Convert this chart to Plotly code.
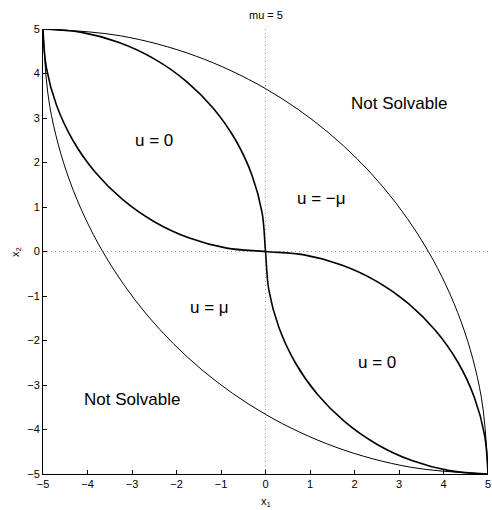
import plotly.graph_objects as go

# Thick switching curves
sw1_x1 = [-5.0, -4.924, -4.698, -4.330, -3.830, -3.214, -2.5, -1.710, -0.868, 0.0,
          0.868, 1.710, 2.5, 3.214, 3.830, 4.330, 4.698, 4.924, 5.0]
sw1_x2 = [5.0, 4.132, 3.290, 2.5, 1.786, 1.170, 0.670, 0.302, 0.076, 0.0,
          -0.076, -0.302, -0.670, -1.170, -1.786, -2.5, -3.290, -4.132, -5.0]
sw2_x1 = [-5.0, -4.132, -3.290, -2.5, -1.786, -1.170, -0.670, -0.302, -0.076, 0.0,
          0.076, 0.302, 0.670, 1.170, 1.786, 2.5, 3.290, 4.132, 5.0]
sw2_x2 = [5.0, 4.924, 4.698, 4.330, 3.830, 3.214, 2.5, 1.710, 0.868, 0.0,
          -0.868, -1.710, -2.5, -3.214, -3.830, -4.330, -4.698, -4.924, -5.0]

# Thin outer boundaries (solvability limits)
up_x1 = [-5.0, -3.264, -1.580, 0.0, 1.428, 2.660, 3.660, 4.397, 4.848, 5.0]
up_x2 = [5.0, 4.848, 4.397, 3.660, 2.660, 1.428, 0.0, -1.580, -3.264, -5.0]
lo_x1 = [-5.0, -4.848, -4.397, -3.660, -2.660, -1.428, 0.0, 1.580, 3.264, 5.0]
lo_x2 = [5.0, 3.264, 1.580, 0.0, -1.428, -2.660, -3.660, -4.397, -4.848, -5.0]

label_text = ["u = 0", "u = \u2212\u03bc", "Not Solvable", "u = \u03bc", "Not Solvable", "u = 0"]
label_x1 = [-2.5, 1.25, 3.0, -1.25, -3.0, 2.5]
label_x2 = [2.5, 1.2, 3.33, -1.25, -3.33, -2.5]

ticks = [-5, -4, -3, -2, -1, 0, 1, 2, 3, 4, 5]

FONT = "Liberation Sans"

fig = go.Figure()
for xs, ys in [(up_x1, up_x2), (lo_x1, lo_x2)]:
    fig.add_trace(go.Scatter(x=xs, y=ys, mode="lines",
                             line=dict(color="black", width=1, shape="spline"),
                             showlegend=False, hoverinfo="skip"))
for xs, ys in [(sw1_x1, sw1_x2), (sw2_x1, sw2_x2)]:
    fig.add_trace(go.Scatter(x=xs, y=ys, mode="lines",
                             line=dict(color="black", width=1.6, shape="spline"),
                             showlegend=False, hoverinfo="skip"))

for t, x, y in zip(label_text, label_x1, label_x2):
    fig.add_annotation(x=x, y=y, text=t, showarrow=False,
                       font=dict(size=17, color="black", family=FONT))

fig.add_shape(type="line", x0=0, x1=0, y0=-5, y1=5, layer="below",
              line=dict(color="#999999", width=1, dash="1px,3px"))
fig.add_shape(type="line", x0=-5, x1=5, y0=0, y1=0, layer="below",
              line=dict(color="#999999", width=1, dash="1px,3px"))

# title and axis labels
fig.add_annotation(xref="paper", yref="paper", x=0.5, y=1.0315, text="mu = 5",
                   showarrow=False, xanchor="center", yanchor="middle",
                   font=dict(size=11, color="black", family=FONT))
fig.add_annotation(xref="paper", yref="paper", x=0.5, y=-0.062, text="x<sub>1</sub>",
                   showarrow=False, xanchor="center", yanchor="middle",
                   font=dict(size=11, color="black", family=FONT))
fig.add_annotation(xref="paper", yref="paper", x=-0.062, y=0.5, text="x<sub>2</sub>",
                   showarrow=False, xanchor="center", yanchor="middle", textangle=-90,
                   font=dict(size=11, color="black", family=FONT))

axis_common = dict(range=[-5, 5], tickvals=ticks, ticks="inside", ticklen=4,
                   tickcolor="black", showline=True, linecolor="black", linewidth=1,
                   mirror=False, showgrid=False, zeroline=False, automargin=False,
                   tickfont=dict(size=11, color="black", family=FONT))

fig.update_layout(
    width=492, height=510,
    margin=dict(l=43, r=4, t=29, b=36),
    paper_bgcolor="white", plot_bgcolor="white",
    font=dict(family=FONT, color="black"),
    xaxis=dict(**axis_common),
    yaxis=dict(**axis_common),
)

fig.write_html("out.html", config={"displayModeBar": False},
               post_script="document.body.style.margin='0';document.body.style.padding='0';")
